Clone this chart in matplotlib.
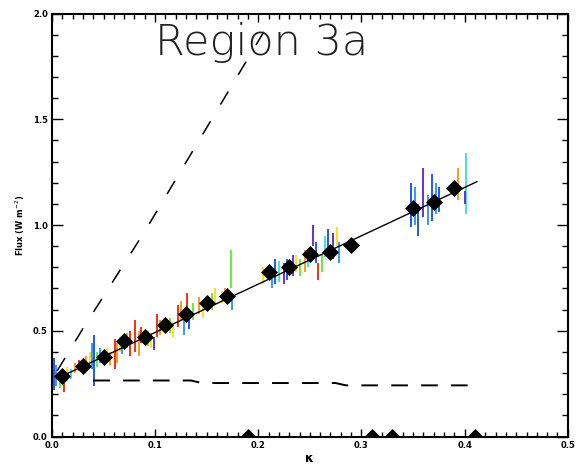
import matplotlib
matplotlib.use("Agg")
import matplotlib.pyplot as plt

plt.rcParams['lines.scale_dashes'] = False

# ---- data ----
bin_x = [0.01, 0.03, 0.05, 0.07, 0.09, 0.11, 0.13, 0.15, 0.17, 0.19,
         0.21, 0.23, 0.25, 0.27, 0.29, 0.31, 0.33, 0.35, 0.37, 0.39, 0.41]
bin_y = [0.287, 0.333, 0.377, 0.452, 0.471, 0.528, 0.580, 0.631, 0.665, 0.0,
         0.778, 0.802, 0.863, 0.873, 0.906, 0.0, 0.0, 1.080, 1.108, 1.174, 0.0]

fit_x = [0.005, 0.412]
fit_y = [0.275, 1.205]

steep_x = [0.005, 0.03, 0.09, 0.216]
steep_y = [0.31, 0.51, 0.97, 2.0]

flat_x = [0.04, 0.135, 0.145, 0.275, 0.285, 0.41]
flat_y = [0.265, 0.265, 0.253, 0.253, 0.242, 0.242]

# individual samples drawn as vertical streaks: x, low, high, colour key
streak_x = [0.002, 0.004, 0.008, 0.012, 0.015, 0.018,
            0.022, 0.026, 0.033, 0.037, 0.039,
            0.041, 0.044, 0.047, 0.053, 0.056,
            0.061, 0.063, 0.066, 0.068, 0.073, 0.076,
            0.081, 0.084, 0.086, 0.093, 0.096, 0.099,
            0.102, 0.105, 0.114, 0.117,
            0.122, 0.125, 0.128, 0.131, 0.133, 0.137,
            0.143, 0.146, 0.155, 0.158,
            0.174, 0.175, 0.165, 0.168,
            0.205, 0.213, 0.216, 0.220,
            0.225, 0.228, 0.234, 0.237, 0.240,
            0.245, 0.248, 0.253, 0.256, 0.258, 0.262,
            0.265, 0.268, 0.272, 0.276, 0.278,
            0.348, 0.352, 0.355, 0.360, 0.365,
            0.368, 0.372, 0.375,
            0.394, 0.401, 0.400]
streak_lo = [0.22, 0.24, 0.23, 0.21, 0.26, 0.27,
             0.30, 0.31, 0.32, 0.34, 0.32,
             0.24, 0.33, 0.35, 0.36, 0.34,
             0.32, 0.35, 0.40, 0.39, 0.42, 0.38,
             0.40, 0.38, 0.44, 0.43, 0.42, 0.41,
             0.47, 0.48, 0.49, 0.47,
             0.52, 0.55, 0.48, 0.60, 0.51, 0.55,
             0.58, 0.56, 0.60, 0.62,
             0.70, 0.60, 0.63, 0.64,
             0.72, 0.70, 0.72, 0.73,
             0.72, 0.74, 0.76, 0.78, 0.76,
             0.78, 0.80, 0.90, 0.82, 0.74, 0.78,
             0.85, 0.88, 0.84, 0.90, 0.82,
             0.99, 1.00, 0.95, 1.04, 1.00,
             1.02, 1.05, 1.06,
             1.12, 1.05, 1.10]
streak_hi = [0.37, 0.34, 0.30, 0.28, 0.33, 0.32,
             0.35, 0.36, 0.38, 0.40, 0.44,
             0.48, 0.40, 0.42, 0.42, 0.40,
             0.46, 0.44, 0.47, 0.45, 0.49, 0.50,
             0.55, 0.50, 0.52, 0.50, 0.49, 0.47,
             0.58, 0.55, 0.56, 0.54,
             0.62, 0.64, 0.56, 0.68, 0.57, 0.63,
             0.66, 0.63, 0.68, 0.70,
             0.88, 0.68, 0.69, 0.70,
             0.80, 0.80, 0.84, 0.83,
             0.82, 0.84, 0.86, 0.86, 0.84,
             0.88, 0.88, 1.00, 0.92, 0.82, 0.86,
             0.95, 0.98, 0.96, 0.99, 0.92,
             1.20, 1.18, 1.10, 1.27, 1.14,
             1.24, 1.20, 1.18,
             1.27, 1.34, 1.16]
streak_c = ['blue', 'lblue', 'green', 'red', 'yellow', 'cyan',
            'orange', 'red', 'orange', 'yellow', 'lblue',
            'blue', 'green', 'lblue', 'yellow', 'orange',
            'red', 'orange', 'yellow', 'lblue', 'green', 'red',
            'red', 'orange', 'red', 'green', 'yellow', 'purple',
            'red', 'orange', 'green', 'yellow',
            'red', 'orange', 'lblue', 'red', 'blue', 'green',
            'orange', 'yellow', 'green', 'yellow',
            'green', 'lblue', 'yellow', 'orange',
            'yellow', 'lblue', 'blue', 'cyan',
            'purple', 'blue', 'purple', 'yellow', 'green',
            'orange', 'cyan', 'purple', 'blue', 'red', 'green',
            'cyan', 'blue', 'purple', 'yellow', 'lblue',
            'blue', 'lblue', 'blue', 'purple', 'lblue',
            'blue', 'lblue', 'blue',
            'orange', 'cyan', 'purple']
palette = {'blue': '#2255ff', 'lblue': '#3399ff', 'cyan': '#44ddee',
           'green': '#66ee33', 'yellow': '#ffdd22', 'orange': '#ff9922',
           'red': '#ee3311', 'purple': '#6633cc'}

x_ticks = [0.0, 0.1, 0.2, 0.3, 0.4, 0.5]
y_ticks = [0.0, 0.5, 1.0, 1.5, 2.0]

# ---- figure ----
fig = plt.figure(figsize=(5.77, 4.74), dpi=100)
ax = fig.add_axes([0.090, 0.079, 0.894, 0.8925])

ax.vlines(streak_x, streak_lo, streak_hi, colors=[palette[c] for c in streak_c],
          linewidth=1.4, zorder=2)

ax.plot(steep_x, steep_y, color='black', lw=1.1, ls=(0, (11, 14)), zorder=3)
ax.plot(flat_x, flat_y, color='black', lw=1.4, ls=(0, (12, 9.5)), zorder=3)
ax.plot(fit_x, fit_y, color='black', lw=1.0, zorder=3)
sc = ax.scatter(bin_x, bin_y, marker='D', s=75, color='black', zorder=4,
                linewidths=0)
sc.set_clip_path(ax.patch)

ax.set_xlim(0, 0.5)
ax.set_ylim(0, 2.0)
ax.set_xticks(x_ticks)
ax.set_yticks(y_ticks)
ax.set_xticklabels([f"{v:.1f}" for v in x_ticks])
ax.set_yticklabels([f"{v:.1f}" for v in y_ticks])
ax.set_xticks([i * 0.01 for i in range(51)], minor=True)
ax.set_yticks([i * 0.1 for i in range(21)], minor=True)

ax.tick_params(axis='both', which='both', direction='in', top=True, right=True,
               labelsize=6, width=1.0, pad=3)
ax.tick_params(axis='x', which='major', length=6)
ax.tick_params(axis='x', which='minor', length=3.5)
ax.tick_params(axis='y', which='major', length=8)
ax.tick_params(axis='y', which='minor', length=4.5)
for lab in ax.get_xticklabels() + ax.get_yticklabels():
    lab.set_fontweight('bold')
for s in ax.spines.values():
    s.set_linewidth(1.5)
    s.set_zorder(5)

ax.set_ylabel("Flux (W m$^{-2}$)", fontsize=6, fontweight='bold', labelpad=4)
ax.set_xlabel("κ", fontsize=9, fontweight='bold', labelpad=2)

fig.text(0.269, 0.884, "Region 3a", fontsize=31, fontweight='light',
         ha='left', va='baseline', color='#222222')

fig.savefig("out.png", dpi=100)
